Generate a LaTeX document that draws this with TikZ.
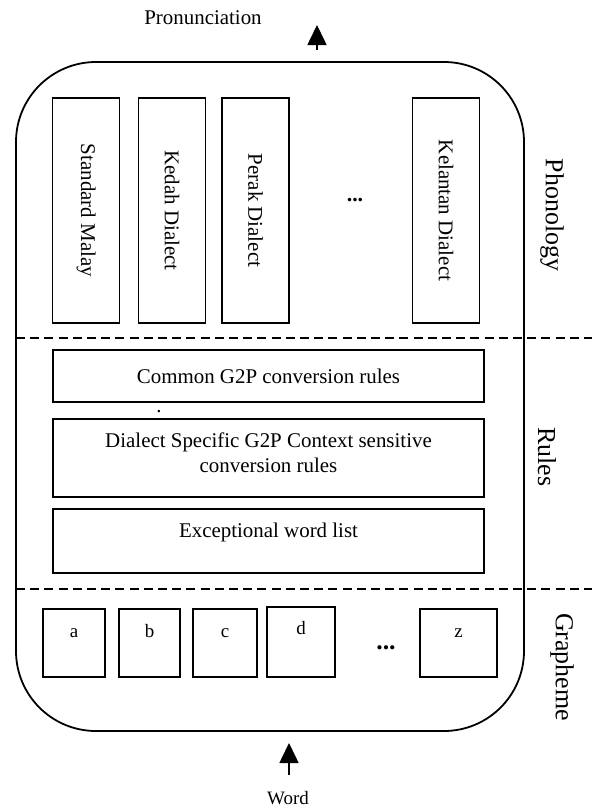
\documentclass[tikz,border=0pt]{standalone}
\usepackage{fontspec}
\setmainfont{Liberation Serif}
\usepackage{tikz}
\usetikzlibrary{arrows.meta,positioning,calc}

\tikzset{
    dialectbox/.style={draw, line width=0.8pt, rotate=-90, minimum width=112.5bp, minimum height=33.5bp, inner sep=0pt, font=\fontsize{10.5}{12}\selectfont},
    rulebox/.style={draw, line width=0.8pt, minimum width=215.5bp, align=center, font=\fontsize{10.5}{12.5}\selectfont},
    letterbox/.style={draw, line width=0.8pt, minimum height=34bp, inner sep=0pt, text height=7bp, text depth=13bp, font=\fontsize{9.5}{11}\selectfont},
    sidelabel/.style={rotate=-90, font=\fontsize{13}{15}\selectfont},
    layerline/.style={dashed, line width=0.8pt, dash pattern=on 4.5bp off 2.6bp},
    flowarrow/.style={line width=0.8pt, -{Triangle[length=10bp, width=9.5bp]}}
}

\begin{document}
\begin{tikzpicture}[x=0.5bp, y=-0.5bp]
    \useasboundingbox (0,0) rectangle (595,809);

    % outer frame
    \draw[line width=0.9pt, rounded corners=40bp] (16,62) rectangle (524,731);

    % layer separators
    \draw[layerline] (16,338) -- (592,338);
    \draw[layerline] (16,589) -- (592,589);

    % Phonology layer
    \foreach \n/\x/\t in {sm/86/Standard Malay, kedah/172/Kedah Dialect, perak/255.5/Perak Dialect, kelantan/446/Kelantan Dialect} {
        \node[dialectbox] (\n) at (\x,210.5) {\t};
    }
    \node[font=\fontsize{11}{12}\bfseries] (pdots) at (355,200) {...};
    \node[sidelabel] (phonology) at (552,215) {Phonology};

    % Rules layer
    \node[rulebox, minimum height=26bp] (common) at (268.5,376) {Common G2P conversion rules};
    \node[font=\fontsize{10.5}{12}\selectfont, anchor=base] (stray) at (159,412) {.};
    \node[rulebox, minimum height=39bp, text depth=5bp] (specific) at (268.5,458) {Dialect Specific G2P Context sensitive\\conversion rules};
    \node[rulebox, minimum height=32bp, text depth=11bp] (exception) at (268.5,541) {Exceptional word list};
    \node[sidelabel] (rules) at (547,457) {Rules};

    % Grapheme layer
    \foreach \l/\x/\w in {a/74/31, b/149.5/30.5, c/225/32, z/458.5/38.5} {
        \node[letterbox, minimum width=\w bp] (g\l) at (\x,643) {\l};
    }
    \node[letterbox, minimum width=34bp, minimum height=35bp, text depth=15bp] (gd) at (301,642) {d};
    \node[font=\fontsize{13}{14}\bfseries] (gdots) at (386,648) {...};
    \node[sidelabel] (grapheme) at (562,667) {Grapheme};

    % input and output
    \node[font=\fontsize{10.5}{12}\selectfont] (pron) at (203,18) {Pronunciation};
    \coordinate (pronfoot) at (317,50);
    \coordinate (prontip) at (317,25);
    \draw[flowarrow] (pronfoot) -- (prontip);

    \node[font=\fontsize{9.5}{11}\selectfont] (word) at (288,798) {Word};
    \coordinate (wordfoot) at (289,775);
    \coordinate (wordtip) at (289,743);
    \draw[flowarrow] (wordfoot) -- (wordtip);
\end{tikzpicture}
\end{document}
